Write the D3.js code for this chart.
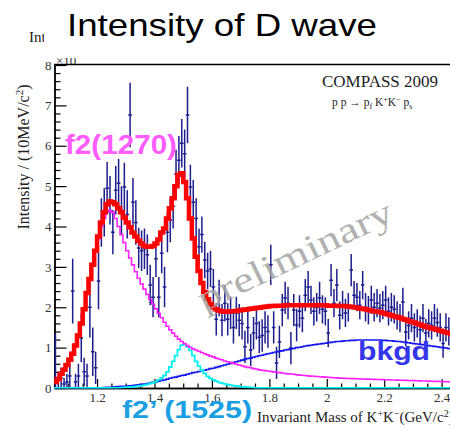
<!DOCTYPE html>
<html><head><meta charset="utf-8">
<script src="https://cdn.jsdelivr.net/npm/d3@7"></script>
<style>html,body{margin:0;padding:0;background:#fff;overflow:hidden}</style>
</head><body><svg id="c" width="450" height="428"></svg>
<script>
// K+K- invariant mass, 10 MeV bins starting at 1.05 GeV/c^2
const binLow = 1.05, binWidth = 0.01;

// D-wave intensity per bin (units of 10^3)
const intensity = [
 0.15,0.20,0.25,0.10,0.15,0.30,2.40,0.15,0.30,1.24,
 0.40,0.30,2.00,0.90,0.50,2.65,4.10,4.35,4.95,4.65,
 3.86,4.90,5.07,4.40,4.98,4.30,6.76,4.60,4.10,3.47,
 3.40,3.45,3.30,2.55,2.25,3.20,2.25,3.34,2.50,3.86,
 4.16,4.50,5.30,5.64,6.06,5.80,6.76,4.98,4.60,4.20,
 3.50,3.80,3.17,2.90,2.95,2.50,1.70,2.23,1.68,2.10,
 1.70,1.86,1.50,1.86,1.68,1.60,1.02,1.50,0.94,1.36,
 1.60,1.26,1.30,1.50,1.40,3.05,1.50,0.62,1.14,1.93,
 2.23,2.10,0.99,1.93,1.56,1.90,1.73,2.30,2.50,2.18,
 1.90,2.00,2.23,1.95,1.90,1.36,2.67,2.10,2.55,1.80,
 2.05,1.86,2.00,2.92,2.30,2.25,2.05,2.55,2.00,1.93,
 2.18,2.00,2.10,1.98,2.05,2.18,1.90,2.00,1.95,1.80,
 1.73,2.13,1.39,1.55,1.73,1.50,1.60,1.44,1.73,1.36,
 1.60,1.55,1.73,1.62,1.50,1.10,1.50,1.40,1.35,1.30];

const intensityErr = [
 1.20,0.20,0.25,0.15,0.20,0.30,0.80,0.20,0.30,0.60,
 0.35,0.30,0.75,0.60,0.40,0.70,0.60,0.60,0.65,0.60,
 0.55,0.60,0.60,0.60,0.60,0.60,0.80,0.60,0.55,0.50,
 0.50,0.50,0.50,0.50,0.50,0.45,0.50,0.50,0.50,0.50,
 0.55,0.55,0.60,0.60,0.60,0.60,0.70,0.55,0.55,0.50,
 0.45,0.45,0.45,0.45,0.45,0.45,0.40,0.45,0.40,0.45,
 0.40,0.40,0.40,0.40,0.40,0.40,0.40,0.40,0.40,0.40,
 0.40,0.40,0.40,0.40,0.40,0.50,0.40,0.40,0.40,0.40,
 0.40,0.40,0.40,0.40,0.40,0.40,0.35,0.40,0.40,0.35,
 0.35,0.35,0.40,0.35,0.35,0.35,0.40,0.35,0.40,0.35,
 0.35,0.35,0.35,0.40,0.35,0.35,0.35,0.35,0.35,0.35,
 0.35,0.35,0.35,0.35,0.35,0.35,0.35,0.35,0.35,0.35,
 0.35,0.35,0.35,0.35,0.35,0.35,0.35,0.35,0.35,0.35,
 0.35,0.35,0.35,0.35,0.35,0.35,0.35,0.35,0.35,0.35];

// Total fit
const totalFit = [
 0.15,0.22,0.35,0.45,0.57,0.70,0.85,1.05,1.30,1.60,
 1.95,2.35,2.70,3.05,3.40,3.75,4.10,4.35,4.55,4.62,
 4.60,4.55,4.45,4.35,4.22,4.10,3.98,3.85,3.75,3.65,
 3.58,3.52,3.50,3.50,3.52,3.58,3.68,3.85,3.95,4.20,
 4.45,4.70,5.00,5.28,5.32,5.10,4.70,4.20,3.70,3.25,
 2.90,2.60,2.38,2.20,2.08,2.00,1.95,1.92,1.90,1.89,
 1.89,1.90,1.90,1.91,1.92,1.93,1.94,1.95,1.96,1.97,
 1.98,1.99,2.00,2.01,2.02,2.03,2.03,2.04,2.04,2.04,
 2.05,2.05,2.05,2.05,2.05,2.05,2.05,2.05,2.05,2.05,
 2.05,2.05,2.05,2.05,2.05,2.04,2.04,2.04,2.04,2.03,
 2.03,2.03,2.02,2.01,2.00,1.99,1.97,1.96,1.95,1.93,
 1.92,1.90,1.89,1.88,1.86,1.84,1.82,1.80,1.78,1.76,
 1.74,1.71,1.69,1.66,1.64,1.62,1.59,1.57,1.54,1.52,
 1.50,1.48,1.46,1.44,1.42,1.40,1.38,1.36,1.34,1.32];

// f2(1270) component
const f2_1270 = [
 0.18,0.25,0.37,0.48,0.60,0.73,0.88,1.08,1.33,1.62,
 1.97,2.35,2.70,3.05,3.38,3.70,4.00,4.20,4.35,4.40,
 4.35,4.20,4.00,3.80,3.60,3.40,3.22,3.05,2.88,2.72,
 2.58,2.45,2.32,2.20,2.08,1.96,1.85,1.74,1.63,1.53,
 1.44,1.36,1.28,1.21,1.15,1.10,1.05,1.01,0.97,0.94,
 0.91,0.88,0.85,0.82,0.79,0.77,0.74,0.72,0.70,0.67,
 0.65,0.63,0.61,0.59,0.57,0.55,0.53,0.51,0.50,0.48,
 0.47,0.45,0.44,0.43,0.42,0.41,0.40,0.39,0.38,0.37,
 0.36,0.35,0.345,0.34,0.33,0.32,0.315,0.31,0.30,0.295,
 0.29,0.285,0.28,0.275,0.27,0.265,0.26,0.255,0.25,0.245,
 0.24,0.238,0.235,0.233,0.231,0.228,0.226,0.224,0.221,0.219,
 0.217,0.214,0.212,0.21,0.207,0.205,0.203,0.2,0.198,0.196,
 0.193,0.191,0.189,0.186,0.184,0.182,0.179,0.177,0.175,0.172,
 0.17,0.168,0.165,0.163,0.161,0.158,0.156,0.154,0.152,0.15];

// f2'(1525) component
const f2p_1525 = [
 0,0,0,0,0,0,0,0,0,0,
 0,0,0,0,0,0,0,0,0,0,
 0,0,0.005,0.01,0.015,0.02,0.025,0.03,0.04,0.05,
 0.06,0.07,0.09,0.11,0.13,0.16,0.20,0.25,0.31,0.40,
 0.52,0.66,0.80,0.95,1.06,1.08,1.02,0.93,0.80,0.66,
 0.54,0.44,0.36,0.29,0.24,0.20,0.17,0.14,0.12,0.10,
 0.08,0.07,0.06,0.05,0.04,0.03,0.025,0.02,0.015,0.01,
 0,0,0,0,0,0,0,0,0,0,
 0,0,0,0,0,0,0,0,0,0,
 0,0,0,0,0,0,0,0,0,0,
 0,0,0,0,0,0,0,0,0,0,
 0,0,0,0,0,0,0,0,0,0,
 0,0,0,0,0,0,0,0,0,0,
 0,0,0,0,0,0,0,0,0,0];

// Background component
const bkgd = [
 0,0,0,0,0,0,0,0,0,0,
 0,0,0,0,0,0,0.005,0.01,0.015,0.02,
 0.025,0.03,0.035,0.04,0.045,0.05,0.055,0.06,0.07,0.08,
 0.09,0.10,0.11,0.12,0.14,0.15,0.17,0.19,0.20,0.22,
 0.24,0.26,0.27,0.29,0.31,0.32,0.34,0.36,0.38,0.39,
 0.41,0.43,0.44,0.46,0.48,0.49,0.51,0.53,0.55,0.57,
 0.59,0.61,0.63,0.65,0.67,0.69,0.71,0.73,0.74,0.76,
 0.78,0.80,0.81,0.83,0.85,0.86,0.88,0.89,0.91,0.92,
 0.94,0.95,0.97,0.98,1.00,1.01,1.02,1.04,1.05,1.06,
 1.07,1.08,1.09,1.10,1.11,1.12,1.13,1.14,1.15,1.15,
 1.16,1.17,1.17,1.18,1.18,1.19,1.19,1.19,1.19,1.19,
 1.19,1.19,1.19,1.19,1.18,1.18,1.17,1.17,1.16,1.15,
 1.15,1.14,1.13,1.12,1.11,1.10,1.09,1.08,1.07,1.06,
 1.05,1.04,1.03,1.02,1.01,1.00,0.99,0.98,0.97,0.96];

const xTickValues = [1.2, 1.4, 1.6, 1.8, 2.0, 2.2, 2.4];
const yTickValues = [0, 1, 2, 3, 4, 5, 6, 7, 8];

const serif = "'Liberation Serif','Times New Roman',serif";
const sans = "'Liberation Sans',Arial,sans-serif";

const svg = d3.select("#c");
const x = d3.scaleLinear().domain([1.05, 2.45]).range([54, 456]);
const y = d3.scaleLinear().domain([0, 8]).range([388, 65]);

svg.append("defs").append("clipPath").attr("id", "plot")
  .append("rect").attr("x", 54).attr("y", 64).attr("width", 402).attr("height", 324.5);

// ROOT-style frame title (mostly hidden behind the slide title)
svg.append("text").attr("x", 29).attr("y", 42).attr("font-family", serif)
  .attr("font-size", 15).attr("fill", "#222").text("Int");
svg.append("text").attr("x", 56).attr("y", 64.5).attr("font-family", serif)
  .attr("font-size", 13).attr("fill", "#333").text("×10");
svg.append("rect").attr("x", 44).attr("y", 0).attr("width", 406).attr("height", 58).attr("fill", "#fff");

svg.append("text").attr("x", 67).attr("y", 36).attr("font-family", sans)
  .attr("font-size", 32).attr("fill", "#000")
  .attr("textLength", 310).attr("lengthAdjust", "spacingAndGlyphs")
  .text("Intensity of D wave");

// axes
const minorX = d3.range(21, 49).map(k => k * 0.05).filter(v => v >= 1.05 && v <= 2.45 && Math.abs(v * 5 - Math.round(v * 5)) > 1e-6);
const minorY = d3.range(0, 41).map(k => k * 0.2).filter(v => Math.abs(v - Math.round(v)) > 1e-6);

const gx = svg.append("g").attr("transform", "translate(0,388)");
gx.call(d3.axisBottom(x).tickValues(minorX).tickSize(-4.5).tickFormat("").tickSizeOuter(0));
gx.append("g").call(d3.axisBottom(x).tickValues(xTickValues).tickSize(-9).tickPadding(5)
  .tickSizeOuter(0).tickFormat(d3.format("")));

const gy = svg.append("g").attr("transform", "translate(54.5,0)");
gy.call(d3.axisLeft(y).tickValues(minorY).tickSize(-6).tickFormat("").tickSizeOuter(0));
gy.append("g").call(d3.axisLeft(y).tickValues(yTickValues).tickSize(-12).tickPadding(3)
  .tickSizeOuter(0).tickFormat(d3.format("d")));

svg.selectAll(".domain").attr("stroke", "#000").attr("stroke-width", 1.4);
svg.selectAll(".tick line").attr("stroke", "#000").attr("stroke-width", 1.2);
svg.selectAll(".tick text").attr("font-family", serif).attr("font-size", 13).attr("fill", "#333");

// frame top edge
svg.append("line").attr("x1", 54).attr("x2", 450).attr("y1", 64.5).attr("y2", 64.5)
  .attr("stroke", "#000").attr("stroke-width", 1.4);

const plot = svg.append("g").attr("clip-path", "url(#plot)");

function stepPath(vals) {
  const pts = vals.map((v, i) => [binLow + i * binWidth, v]);
  pts.push([binLow + vals.length * binWidth, vals[vals.length - 1]]);
  return d3.line().x(d => x(d[0])).y(d => y(d[1])).curve(d3.curveStepAfter)(pts);
}

// data points with error bars
const bins = intensity.map((v, i) => ({ c: binLow + (i + 0.5) * binWidth, v, e: intensityErr[i] }));
const pts = plot.append("g").attr("stroke", "#1d1d8c").attr("stroke-width", 1.5);
pts.selectAll("line.eb").data(bins).join("line").attr("class", "eb")
  .attr("x1", d => x(d.c)).attr("x2", d => x(d.c))
  .attr("y1", d => y(Math.max(d.v - d.e, 0))).attr("y2", d => y(d.v + d.e));
pts.selectAll("line.mk").data(bins).join("line").attr("class", "mk")
  .attr("x1", d => x(d.c) - 1.8).attr("x2", d => x(d.c) + 1.8)
  .attr("y1", d => y(d.v)).attr("y2", d => y(d.v));

// fit components
plot.append("path").attr("d", stepPath(bkgd)).attr("fill", "none").attr("stroke", "#1515f0").attr("stroke-width", 1.6);
plot.append("path").attr("d", stepPath(f2p_1525)).attr("fill", "none").attr("stroke", "#00f0f0").attr("stroke-width", 1.8);
plot.append("path").attr("d", stepPath(f2_1270)).attr("fill", "none").attr("stroke", "#ff22ff").attr("stroke-width", 1.6);
plot.append("path").attr("d", stepPath(totalFit)).attr("fill", "none").attr("stroke", "#ff0000").attr("stroke-width", 4.5);

// experiment labels
svg.append("text").attr("x", 322).attr("y", 87).attr("font-family", serif)
  .attr("font-size", 17).attr("fill", "#222").text("COMPASS 2009");
const react = svg.append("text").attr("x", 332).attr("y", 106).attr("font-family", serif)
  .attr("font-size", 11.5).attr("fill", "#222");
react.append("tspan").text("p p → p");
react.append("tspan").attr("dy", 3).attr("font-size", 8).text("f");
react.append("tspan").attr("dy", -3).text(" K");
react.append("tspan").attr("dy", -4).attr("font-size", 8).text("+");
react.append("tspan").attr("dy", 4).text("K");
react.append("tspan").attr("dy", -4).attr("font-size", 8).text("−");
react.append("tspan").attr("dy", 4).text(" p");
react.append("tspan").attr("dy", 3).attr("font-size", 8).text("s");

// axis titles
const yt = svg.append("text").attr("transform", "translate(29,157) rotate(-90)")
  .attr("text-anchor", "middle").attr("font-family", serif).attr("font-size", 16).attr("fill", "#222");
yt.append("tspan").text("Intensity / (10MeV/c");
yt.append("tspan").attr("dy", -6).attr("font-size", 11).text("2");
yt.append("tspan").attr("dy", 6).text(")");

const xt = svg.append("text").attr("x", 257).attr("y", 422).attr("font-family", serif)
  .attr("font-size", 15).attr("fill", "#222");
xt.append("tspan").text("Invariant Mass of K");
xt.append("tspan").attr("dy", -5).attr("font-size", 10).text("+");
xt.append("tspan").attr("dy", 5).text("K");
xt.append("tspan").attr("dy", -5).attr("font-size", 10).text("−");
xt.append("tspan").attr("dy", 5).text("(GeV/c");
xt.append("tspan").attr("dy", -5).attr("font-size", 10).text("2");
xt.append("tspan").attr("dy", 5).text(")");

// watermark
svg.append("text").attr("transform", "translate(300,266) rotate(-25.5)")
  .attr("text-anchor", "middle").attr("font-family", serif).attr("font-size", 36)
  .attr("fill", "#a6a6a6").attr("fill-opacity", 0.9)
  .attr("textLength", 212).attr("lengthAdjust", "spacingAndGlyphs").text("preliminary");

// component labels
svg.append("text").attr("x", 65).attr("y", 154).attr("font-family", sans).attr("font-weight", "bold")
  .attr("font-size", 27).attr("fill", "#ff5cff")
  .attr("textLength", 112).attr("lengthAdjust", "spacingAndGlyphs").text("f2(1270)");
svg.append("text").attr("x", 122).attr("y", 418).attr("font-family", sans).attr("font-weight", "bold")
  .attr("font-size", 23).attr("fill", "#1b9fe3")
  .attr("textLength", 130).attr("lengthAdjust", "spacingAndGlyphs").text("f2’ (1525)");
svg.append("text").attr("x", 358).attr("y", 360).attr("font-family", sans).attr("font-weight", "bold")
  .attr("font-size", 25).attr("fill", "#3535ea")
  .attr("textLength", 72).attr("lengthAdjust", "spacingAndGlyphs").text("bkgd");
</script>
</body></html>
